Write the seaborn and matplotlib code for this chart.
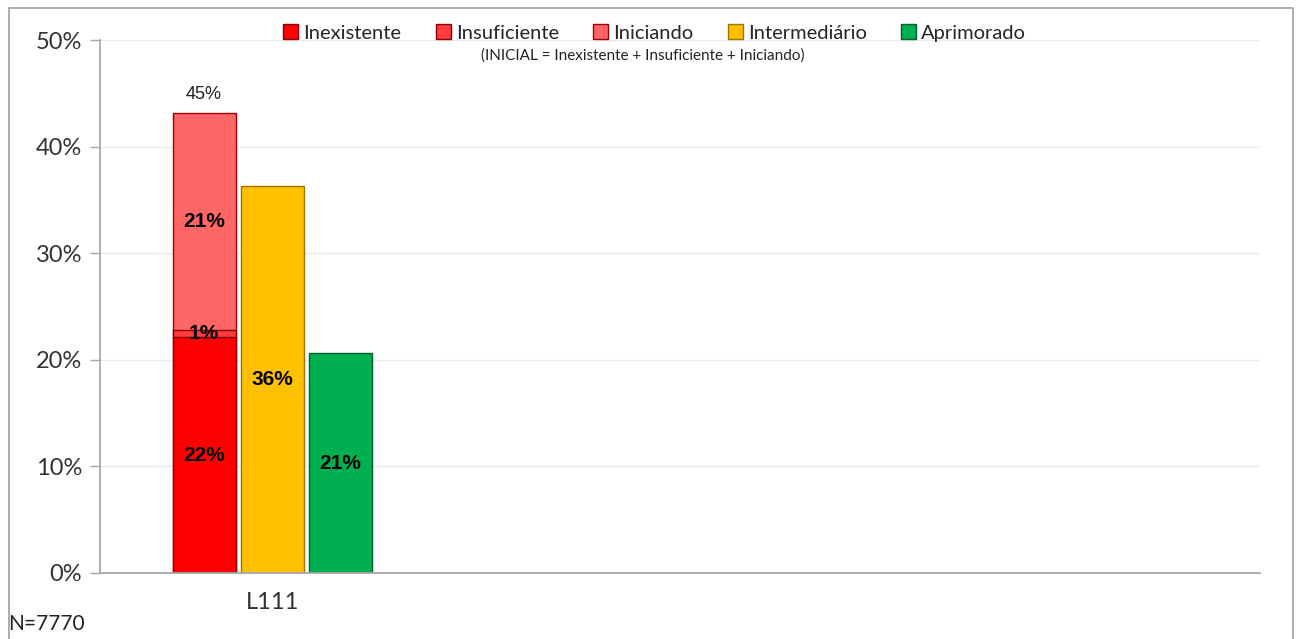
import matplotlib
matplotlib.use("Agg")
import matplotlib.pyplot as plt
from matplotlib.patches import Patch, Rectangle
from matplotlib.ticker import PercentFormatter
import seaborn as sns
import pandas as pd

# data
category = "L111"
levels = ["Inexistente", "Insuficiente", "Iniciando", "Intermediário", "Aprimorado"]
values = [22.1, 0.65, 20.4, 36.3, 20.6]          # bar heights, %
labels = ["22%", "1%", "21%", "36%", "21%"]      # labels printed on the bars
total_label = "45%"                              # label above the INICIAL stack
n_text = "N=7770"
note = "(INICIAL = Inexistente + Insuficiente + Iniciando)"

colors = ["#ff0000", "#ff3b3b", "#ff6666", "#ffc000", "#00b050"]
edges = ["#8c0000", "#8c0000", "#a00000", "#9c7400", "#00602c"]

sns.set_theme(style="white")
plt.rcParams["font.family"] = ["Lato", "DejaVu Sans"]

fig = plt.figure(figsize=(12.96, 6.39), dpi=100)
ax = fig.add_axes([0.0772, 0.1033, 0.8950, 0.8341])

inicial_total = sum(values[:3])
groups = ["INICIAL", "Intermediário", "Aprimorado"]
df = pd.DataFrame({
    "cat": [category] * 3,
    "grupo": groups,
    "valor": [inicial_total, values[3], values[4]],
})

sns.barplot(data=df, x="cat", y="valor", hue="grupo", hue_order=groups,
            palette=[colors[2], colors[3], colors[4]], saturation=1,
            width=0.6, gap=0.075, dodge=True, legend=False, ax=ax)

bars = ax.patches[:3]
for p, ec in zip(bars, [edges[2], edges[3], edges[4]]):
    p.set_edgecolor(ec)
    p.set_linewidth(1.0)

# stack Inexistente and Insuficiente inside the INICIAL bar
p0 = bars[0]
x0, w0 = p0.get_x(), p0.get_width()
xc0 = x0 + w0 / 2
ax.bar(xc0, values[0], width=w0, color=colors[0], edgecolor=edges[0], linewidth=1.0)
ax.bar(xc0, values[1], bottom=values[0], width=w0, color=colors[1],
       edgecolor=edges[1], linewidth=1.0)

# labels
bottoms = [0, values[0], values[0] + values[1]]
for v, b, lab in zip(values[:3], bottoms, labels[:3]):
    ax.text(xc0, b + v / 2, lab, ha="center", va="center", fontsize=15,
            fontweight="bold", family="Liberation Sans", color="black")
for p, lab in zip(bars[1:], labels[3:]):
    ax.text(p.get_x() + p.get_width() / 2, p.get_height() / 2, lab,
            ha="center", va="center", fontsize=15, fontweight="bold",
            family="Liberation Sans", color="black")
ax.text(xc0, inicial_total + 0.9, total_label, ha="center", va="bottom",
        fontsize=13, family="Liberation Sans", color="#222222")

ax.set_xlim(-0.506, 2.906)
ax.set_ylim(0, 50)
ax.set_yticks(range(0, 51, 10))
ax.yaxis.set_major_formatter(PercentFormatter(decimals=0))
ax.set_xticks([0])
ax.set_xticklabels([category])
ax.set_xlabel("")
ax.set_ylabel("")
ax.tick_params(axis="y", labelsize=17, colors="#333333", length=7, width=1,
               direction="out", left=True, pad=6)
ax.tick_params(axis="y", color="#a6a6a6")
ax.tick_params(axis="x", labelsize=17, colors="#333333", length=0, pad=14)
ax.grid(axis="y", color="#ebebeb", linewidth=1)
ax.set_axisbelow(True)
for s in ["top", "right"]:
    ax.spines[s].set_visible(False)
ax.spines["left"].set_color("#a6a6a6")
ax.spines["bottom"].set_color("#a6a6a6")
ax.spines["bottom"].set_linewidth(1.3)

handles = [Patch(facecolor=c, edgecolor=e, label=l) for c, e, l in zip(colors, edges, levels)]
fig.legend(handles=handles, loc="upper center", bbox_to_anchor=(0.505, 0.975), ncol=5,
           frameon=False, fontsize=14.5, handlelength=0.75, handleheight=0.8,
           handletextpad=0.25, columnspacing=1.7, borderaxespad=0)
fig.text(0.496, 0.913, note, ha="center", va="center", fontsize=11, color="#222222")
fig.text(0.006, 0.008, n_text, ha="left", va="bottom", fontsize=15, color="#222222")

# outer chart border
fig.patches.append(Rectangle((0.007, -0.02), 0.991, 1.007, transform=fig.transFigure,
                             fill=False, edgecolor="#a0a0a0", linewidth=1.2))

fig.savefig("out.png", dpi=100)
